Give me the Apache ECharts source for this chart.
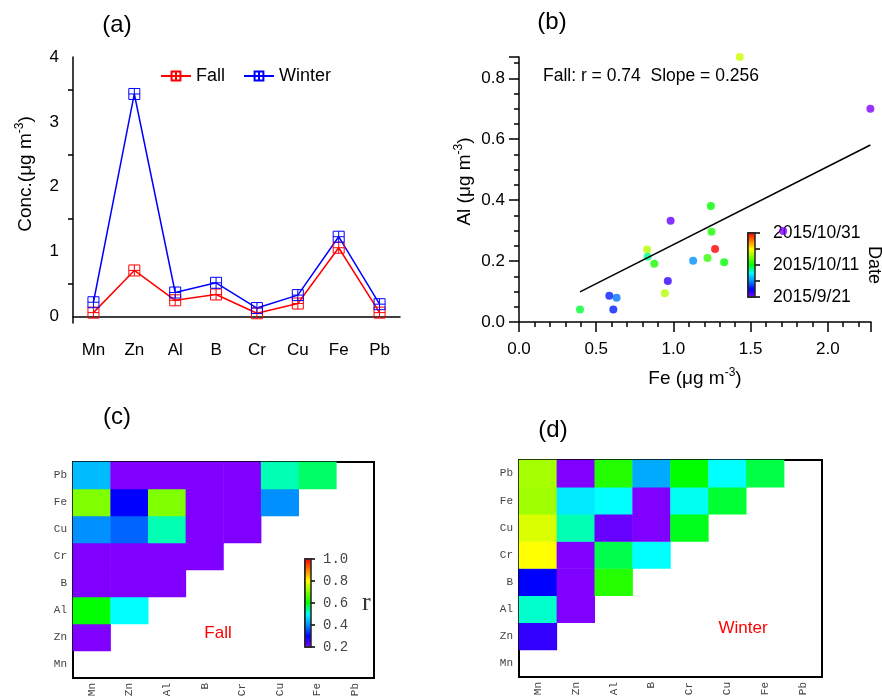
<!DOCTYPE html>
<html>
<head>
<meta charset="utf-8">
<script src="https://cdn.jsdelivr.net/npm/echarts@6/dist/echarts.min.js"></script>
<style>
html, body { margin: 0; padding: 0; background: #fff; }
#main { width: 882px; height: 696px; }
</style>
</head>
<body>
<div id="main"></div>
<script>
// (a) mean concentrations
var elements = ['Mn', 'Zn', 'Al', 'B', 'Cr', 'Cu', 'Fe', 'Pb'];
var fallConc = [0.06, 0.71, 0.25, 0.34, 0.05, 0.20, 1.06, 0.06];
var winterConc = [0.22, 3.43, 0.37, 0.52, 0.13, 0.33, 1.23, 0.19];

// (b) Fe vs Al in fall, day = days after 2015/9/21
var feFall = [1.43, 2.276, 1.243, 0.982, 1.711, 1.247, 1.27, 0.83, 0.833, 0.876, 1.128, 1.221, 1.329, 0.964, 0.945, 0.585, 0.632, 0.611, 0.395];
var alFall = [0.87, 0.70, 0.381, 0.332, 0.299, 0.296, 0.240, 0.238, 0.214, 0.191, 0.201, 0.21, 0.196, 0.135, 0.094, 0.086, 0.080, 0.041, 0.041];
var dayFall = [28, 0, 20, 1, 0, 21, 40, 27, 17, 21, 10, 22, 20, 3, 27, 6, 9, 6, 19];
var fitFe = [0.395, 2.276];
var fitAl = [0.099, 0.581];
var dateLabels = { 0: '2015/9/21', 20: '2015/10/11', 40: '2015/10/31' };

// (c)(d) correlation r, lower triangle: row i has columns 0..i-1
var rFall = [
    [],
    [0.2],
    [0.6, 0.5],
    [0.2, 0.2, 0.2],
    [0.2, 0.2, 0.2, 0.2],
    [0.4, 0.37, 0.53, 0.2, 0.2],
    [0.7, 0.3, 0.7, 0.2, 0.2, 0.4],
    [0.44, 0.2, 0.2, 0.2, 0.2, 0.53, 0.56]
];
var rWinter = [
    [],
    [0.26],
    [0.52, 0.2],
    [0.3, 0.2, 0.63],
    [0.8, 0.2, 0.57, 0.5],
    [0.77, 0.53, 0.22, 0.2, 0.59],
    [0.725, 0.48, 0.5, 0.2, 0.506, 0.58],
    [0.73, 0.2, 0.627, 0.423, 0.6, 0.5, 0.573]
];

var rainbow = ['#7f00ff', '#0000ff', '#0090ff', '#00ffff', '#00ff00', '#80ff00', '#ffff00', '#ff8000', '#ff0000'];
var sans = 'Liberation Sans, Arial, sans-serif';
var mono = 'Liberation Mono, monospace';
var plusBox = 'path://M0,0H10V10H0Z M5,0V10 M0,5H10';

function triangle(rows) {
    var out = [];
    rows.forEach(function (row, i) {
        row.forEach(function (v, j) { out.push([j, i, v]); });
    });
    return out;
}

var black = { color: '#000', width: 1.5 };
var supRich = { sup: { fontSize: 12, verticalAlign: 'top', lineHeight: 12, fontFamily: sans } };

function heatX(grid) {
    return {
        type: 'category', gridIndex: grid, data: elements,
        axisLine: { lineStyle: { color: '#000', width: 2 } },
        axisTick: { length: 9, lineStyle: { color: '#000', width: 1.5 } },
        axisLabel: { rotate: 90, fontFamily: mono, fontSize: 11, color: '#444', margin: 5 },
        splitLine: { show: false }
    };
}
function heatY(grid) {
    return {
        type: 'category', gridIndex: grid, data: elements,
        axisLine: { lineStyle: { color: '#000', width: 2 } },
        axisTick: { length: 9, lineStyle: { color: '#000', width: 1.5 } },
        axisLabel: { fontFamily: mono, fontSize: 11, color: '#444', margin: 6 },
        splitLine: { show: false }
    };
}

var chart = echarts.init(document.getElementById('main'));
chart.setOption({
    animation: false,
    backgroundColor: '#fff',
    textStyle: { fontFamily: sans },
    grid: [
        { left: 73, top: 57, width: 327, height: 266, outerBoundsMode: 'none' },
        { left: 519, top: 57, width: 352, height: 265, outerBoundsMode: 'none' },
        { left: 748, top: 233, width: 7, height: 64, outerBoundsMode: 'none', show: true, borderColor: '#222', borderWidth: 1.5, z: 10, backgroundColor: 'transparent' },
        { left: 73, top: 462, width: 301, height: 216, outerBoundsMode: 'none', show: true, borderColor: '#000', borderWidth: 2 },
        { left: 305, top: 559, width: 6, height: 88, outerBoundsMode: 'none', show: true, borderColor: '#222', borderWidth: 1.5, z: 10, backgroundColor: 'transparent' },
        { left: 519, top: 460, width: 303, height: 217, outerBoundsMode: 'none', show: true, borderColor: '#000', borderWidth: 2 }
    ],
    xAxis: [
        {
            type: 'category', gridIndex: 0, data: elements,
            axisLine: { lineStyle: black },
            axisTick: { length: 12, lineStyle: black },
            axisLabel: { fontSize: 17, color: '#000', margin: 19 },
            splitLine: { show: false }
        },
        {
            type: 'value', gridIndex: 1, min: 0, max: 2.28, interval: 0.5,
            axisLine: { onZero: false, lineStyle: black },
            axisTick: { length: 10, lineStyle: black },
            minorTick: { show: true, splitNumber: 5, length: 5, lineStyle: black },
            axisLabel: { fontSize: 17, color: '#000', margin: 19, showMaxLabel: false, formatter: function (v) { return v.toFixed(1); } },
            splitLine: { show: false },
            name: 'Fe (μg m{sup|-3})', nameLocation: 'middle', nameGap: 45,
            nameTextStyle: { fontSize: 19, color: '#000', lineHeight: 24, rich: supRich }
        },
        { type: 'value', gridIndex: 2, min: 0, max: 1, show: false },
        heatX(3),
        { type: 'value', gridIndex: 4, min: 0, max: 1, show: false },
        heatX(5)
    ],
    yAxis: [
        {
            type: 'value', gridIndex: 0, min: -0.1, max: 4,
            axisLine: { show: true, lineStyle: black },
            axisTick: { length: 10, lineStyle: black },
            minorTick: { show: true, splitNumber: 2, length: 5, lineStyle: black },
            axisLabel: { fontSize: 17, color: '#000', margin: 14, showMinLabel: false },
            splitLine: { show: false },
            name: 'Conc.(μg m{sup|-3})', nameLocation: 'middle', nameGap: 35,
            nameTextStyle: { fontSize: 19, color: '#000', lineHeight: 24, padding: [0, 0, 0, 32], rich: supRich }
        },
        {
            type: 'value', gridIndex: 1, min: 0, max: 0.87, interval: 0.2,
            axisLine: { show: true, onZero: false, lineStyle: black },
            axisTick: { length: 10, lineStyle: black },
            minorTick: { show: true, splitNumber: 4, length: 5, lineStyle: black },
            axisLabel: { fontSize: 17, color: '#000', margin: 14, showMaxLabel: false, formatter: function (v) { return v.toFixed(1); } },
            splitLine: { show: false },
            name: 'Al (μg m{sup|-3})', nameLocation: 'middle', nameGap: 42,
            nameTextStyle: { fontSize: 19, color: '#000', lineHeight: 24, padding: [0, 0, 0, 16], rich: supRich }
        },
        {
            type: 'value', gridIndex: 2, min: 0, max: 40, interval: 10, position: 'right',
            axisLine: { show: true, lineStyle: { color: '#000', width: 1.5 } },
            axisTick: { length: 12, lineStyle: black },
            axisLabel: { fontSize: 17.5, color: '#000', margin: 18, formatter: function (v) { return dateLabels[v] || ''; } },
            splitLine: { show: false },
            name: 'Date', nameLocation: 'middle', nameRotate: -90, nameGap: 110,
            nameTextStyle: { fontSize: 18, color: '#000' }
        },
        heatY(3),
        {
            type: 'value', gridIndex: 4, min: 0.2, max: 1.0, interval: 0.2, position: 'right',
            axisLine: { show: true, lineStyle: { color: '#000', width: 1.5 } },
            axisTick: { length: 10, lineStyle: black },
            axisLabel: { fontFamily: mono, fontSize: 14, color: '#444', margin: 12, formatter: function (v) { return v.toFixed(1); } },
            splitLine: { show: false },
            name: 'r', nameLocation: 'middle', nameRotate: 0, nameGap: 51,
            nameTextStyle: { fontFamily: 'Liberation Serif, serif', fontSize: 26, color: '#333' }
        },
        heatY(5)
    ],
    legend: {
        data: ['Fall', 'Winter'], left: 155, top: 62,
        itemWidth: 30, itemHeight: 11, itemGap: 18,
        textStyle: { fontSize: 18, color: '#000' }
    },
    visualMap: [
        {
            type: 'continuous', seriesIndex: 2, dimension: 2, min: 0, max: 40,
            inRange: { color: rainbow }, calculable: false, hoverLink: false,
            left: 748, top: 233, itemWidth: 7, itemHeight: 64, padding: 0, text: null
        },
        {
            type: 'continuous', seriesIndex: 4, dimension: 2, min: 0.2, max: 1.0,
            inRange: { color: rainbow }, calculable: false, hoverLink: false,
            left: 305, top: 559, itemWidth: 6, itemHeight: 88, padding: 0, text: null
        },
        {
            type: 'continuous', seriesIndex: 5, dimension: 2, min: 0.2, max: 1.0,
            inRange: { color: rainbow }, show: false
        }
    ],
    series: [
        {
            name: 'Fall', type: 'line', xAxisIndex: 0, yAxisIndex: 0, data: fallConc,
            color: '#ff0000', symbol: plusBox, symbolSize: 11,
            lineStyle: { color: '#ff0000', width: 1.5 },
            itemStyle: { color: 'rgba(255,255,255,0)', borderColor: '#ff0000', borderWidth: 1 }
        },
        {
            name: 'Winter', type: 'line', xAxisIndex: 0, yAxisIndex: 0, data: winterConc,
            color: '#0000ff', symbol: plusBox, symbolSize: 11,
            lineStyle: { color: '#0000ff', width: 1.5 },
            itemStyle: { color: 'rgba(255,255,255,0)', borderColor: '#0000ff', borderWidth: 1 }
        },
        {
            type: 'scatter', xAxisIndex: 1, yAxisIndex: 1, symbolSize: 8, clip: false,
            data: feFall.map(function (fe, i) { return [fe, alFall[i], dayFall[i]]; })
        },
        {
            type: 'line', xAxisIndex: 1, yAxisIndex: 1, showSymbol: false, symbol: 'none',
            lineStyle: { color: '#000', width: 1.5 },
            data: fitFe.map(function (fe, i) { return [fe, fitAl[i]]; })
        },
        {
            type: 'heatmap', xAxisIndex: 3, yAxisIndex: 3, data: triangle(rFall),
            itemStyle: { borderWidth: 0 }
        },
        {
            type: 'heatmap', xAxisIndex: 5, yAxisIndex: 5, data: triangle(rWinter),
            itemStyle: { borderWidth: 0 }
        }
    ],
    graphic: [
        { type: 'text', x: 117, y: 25, style: { text: '(a)', fontSize: 24, fontFamily: sans, fill: '#000', align: 'center', verticalAlign: 'middle' } },
        { type: 'text', x: 552, y: 22, style: { text: '(b)', fontSize: 24, fontFamily: sans, fill: '#000', align: 'center', verticalAlign: 'middle' } },
        { type: 'text', x: 117, y: 417, style: { text: '(c)', fontSize: 24, fontFamily: sans, fill: '#000', align: 'center', verticalAlign: 'middle' } },
        { type: 'text', x: 553, y: 430, style: { text: '(d)', fontSize: 24, fontFamily: sans, fill: '#000', align: 'center', verticalAlign: 'middle' } },
        { type: 'text', x: 543, y: 76, style: { text: 'Fall: r = 0.74  Slope = 0.256', fontSize: 17.5, fontFamily: sans, fill: '#000', align: 'left', verticalAlign: 'middle' } },
        { type: 'text', x: 218, y: 633, style: { text: 'Fall', fontSize: 17, fontFamily: sans, fill: '#ff0000', align: 'center', verticalAlign: 'middle' } },
        { type: 'text', x: 743, y: 628, style: { text: 'Winter', fontSize: 17, fontFamily: sans, fill: '#ff0000', align: 'center', verticalAlign: 'middle' } }
    ]
});
</script>
</body>
</html>
